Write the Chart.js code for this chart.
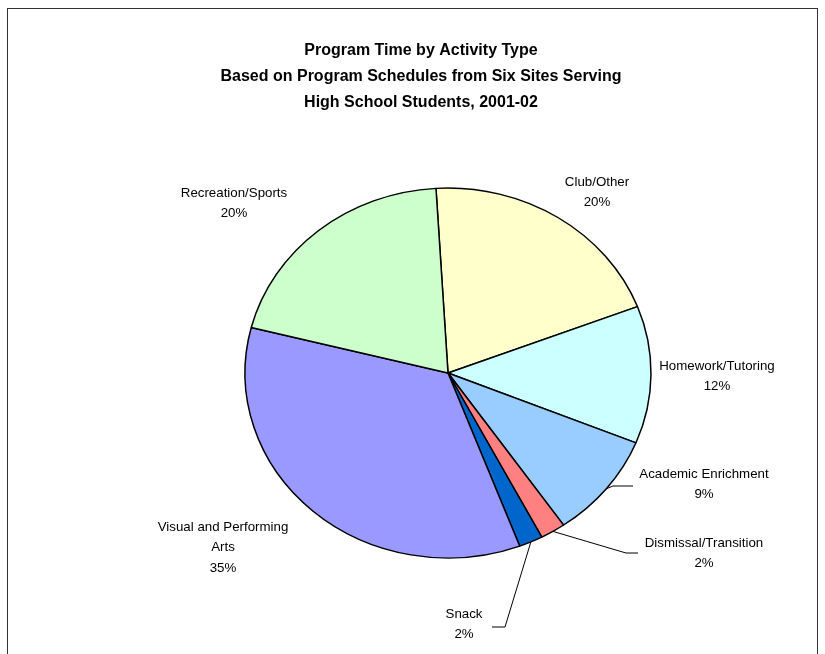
<!DOCTYPE html>
<html>
<head>
<meta charset="utf-8">
<script src="https://cdn.jsdelivr.net/npm/chart.js@4"></script>
<style>
  html, body { margin: 0; padding: 0; background: #fff; overflow: hidden; }
  #wrap { position: relative; width: 825px; height: 654px; }
  #frame { position: absolute; left: 7px; top: 8px; width: 809px; height: 700px; border: 1px solid #333; }
  canvas { position: absolute; left: 0; top: 0; }
</style>
</head>
<body>
<div id="wrap">
  <div id="frame"></div>
  <canvas id="pie" width="825" height="654"></canvas>
</div>
<script>
// Chart data
const categories = ['Club/Other', 'Homework/Tutoring', 'Academic Enrichment', 'Dismissal/Transition',
                    'Snack', 'Visual and Performing Arts', 'Recreation/Sports'];
const shares = [20.1, 12.0, 9.2, 2.0, 1.9, 34.7, 20.1];
const sliceColors = ['#FFFFCC', '#CCFFFF', '#99CCFF', '#FF8080', '#0066CC', '#9999FF', '#CCFFCC'];
const titleLines = ['Program Time by Activity Type',
                    'Based on Program Schedules from Six Sites Serving',
                    'High School Students, 2001-02'];

const FONT = '"Liberation Sans", Arial, sans-serif';
const yScale = 185 / 203; // pie is a bit wider than tall

// label placement (same order as categories)
const labelSpots = [
    { x: 597, y: 182 },
    { x: 717, y: 366 },
    { x: 704, y: 474, leader: [[613, 486], [633, 486]] },
    { x: 704, y: 543, leader: [[626, 553], [638, 553]] },
    { x: 464, y: 614, leader: [[505, 627], [492, 627]] },
    { x: 223, y: 527, lines: ['Visual and Performing', 'Arts'] },
    { x: 234, y: 193 }
];

// squash the pie vertically
const squash = {
    id: 'squash',
    beforeDatasetsDraw(chart) {
        const arc = chart.getDatasetMeta(0).data[0];
        const ctx = chart.ctx;
        ctx.save();
        ctx.translate(arc.x, arc.y);
        ctx.scale(1, yScale);
        ctx.translate(-arc.x, -arc.y);
    },
    afterDatasetsDraw(chart) {
        chart.ctx.restore();
    }
};

// title, labels and leader lines
const annotate = {
    id: 'annotate',
    afterDraw(chart) {
        const ctx = chart.ctx;
        ctx.save();
        ctx.fillStyle = '#000';
        ctx.textAlign = 'center';
        ctx.textBaseline = 'middle';

        ctx.font = 'bold 16px ' + FONT;
        titleLines.forEach((t, i) => ctx.fillText(t, 421, 51 + i * 26));

        ctx.font = '13.3px ' + FONT;
        const arcs = chart.getDatasetMeta(0).data;
        labelSpots.forEach((spot, i) => {
            const lines = (spot.lines || [categories[i]]).concat([Math.round(shares[i]) + '%']);
            lines.forEach((t, j) => ctx.fillText(t, spot.x, spot.y + j * 20.5));

            if (spot.leader) {
                const a = arcs[i];
                const mid = (a.startAngle + a.endAngle) / 2;
                ctx.beginPath();
                ctx.moveTo(a.x + Math.cos(mid) * a.outerRadius, a.y + Math.sin(mid) * a.outerRadius * yScale);
                spot.leader.forEach(p => ctx.lineTo(p[0], p[1]));
                ctx.strokeStyle = '#000';
                ctx.lineWidth = 1;
                ctx.stroke();
            }
        });
        ctx.restore();
    }
};

new Chart(document.getElementById('pie'), {
    type: 'pie',
    data: {
        labels: categories,
        datasets: [{
            data: shares,
            backgroundColor: sliceColors,
            borderColor: '#000',
            borderWidth: 1.5
        }]
    },
    options: {
        responsive: false,
        animation: false,
        rotation: -3.4,
        radius: 203,
        layout: { padding: { left: 100, right: 29, top: 120, bottom: 28 } },
        plugins: {
            legend: { display: false },
            tooltip: { enabled: false },
            title: { display: false }
        }
    },
    plugins: [squash, annotate]
});
</script>
</body>
</html>
